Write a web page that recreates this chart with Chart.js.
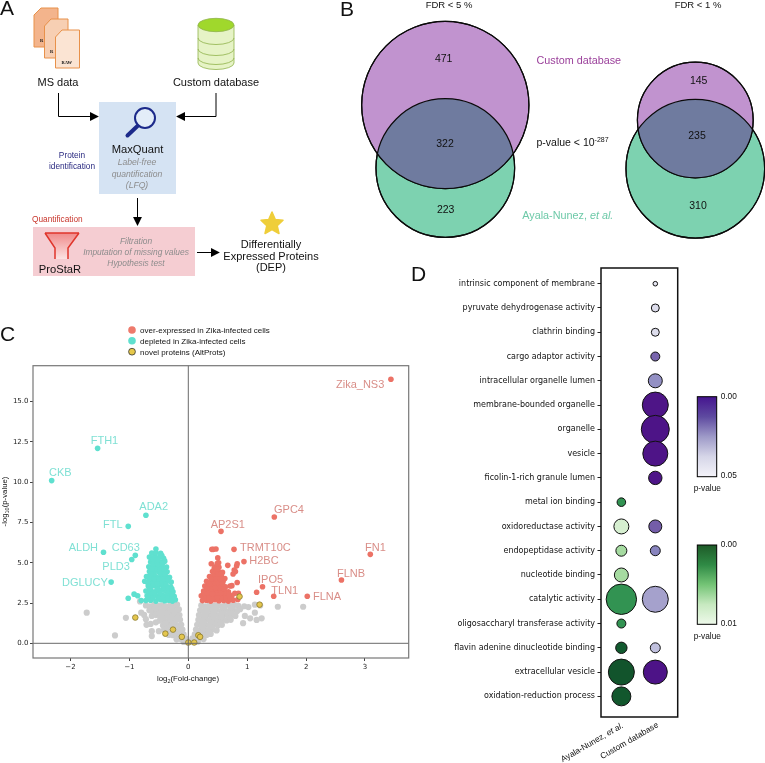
<!DOCTYPE html>
<html><head><meta charset="utf-8">
<script src="https://cdn.jsdelivr.net/npm/chart.js@4"></script>
<style>
html,body{margin:0;padding:0;background:#fff;width:765px;height:763px;overflow:hidden}
canvas{position:absolute;display:block}
svg{position:absolute;left:0;top:0;pointer-events:none}
text{font-family:"Liberation Sans",Arial,sans-serif;fill:#111}
.c{text-anchor:middle}
.g{fill:#8c8c8c;font-style:italic}
</style></head><body>
<canvas id="venn" width="435" height="250" style="left:330px;top:0"></canvas>
<canvas id="volcano" width="420" height="330" style="left:0;top:360px"></canvas>
<canvas id="bubbles" width="280" height="473" style="left:410px;top:256px"></canvas>
<svg width="765" height="763" viewBox="0 0 765 763">
<defs>
<linearGradient id="pg" x1="0" y1="0" x2="0" y2="1"><stop offset="0" stop-color="#45148f"/><stop offset=".25" stop-color="#5e4aa0"/><stop offset=".5" stop-color="#9e9ac8"/><stop offset=".75" stop-color="#d6d6e8"/><stop offset="1" stop-color="#f4f3f9"/></linearGradient>
<linearGradient id="gg" x1="0" y1="0" x2="0" y2="1"><stop offset="0" stop-color="#1e5a28"/><stop offset=".25" stop-color="#2f8a45"/><stop offset=".5" stop-color="#74c476"/><stop offset=".75" stop-color="#c7e9c0"/><stop offset="1" stop-color="#eef9ea"/></linearGradient>
<linearGradient id="fg" x1="0" y1="0" x2="0" y2="1"><stop offset="0" stop-color="#f08a8a"/><stop offset="1" stop-color="#fbe3e3"/></linearGradient>
<marker id="ah" viewBox="0 0 10 10" refX="9" refY="5" markerWidth="9" markerHeight="9" markerUnits="userSpaceOnUse" orient="auto"><path d="M0 0L10 5L0 10Z" fill="#000"/></marker>
</defs>
<!-- panel letters -->
<text x="0" y="15" font-size="21">A</text><text x="340" y="16" font-size="21">B</text>
<text x="0" y="341" font-size="21">C</text><text x="411" y="281" font-size="21">D</text>
<!-- panel A -->
<g stroke="#e8914a" stroke-width="1">
<path d="M41 8H58V47H34V15Z" fill="#f3b48c"/><path d="M51 19H68V58H44.500V26Z" fill="#f7cfb3"/><path d="M62 30H79.500V68H55.500V37Z" fill="#fbe4d3"/>
</g>
<g font-weight="bold" font-size="4.500"><text x="40" y="42" style="font-family:'Liberation Serif'">R</text><text x="50" y="53" style="font-family:'Liberation Serif'">R</text><text x="61.500" y="63.500" style="font-family:'Liberation Serif'">RAW</text></g>
<g stroke="#8fb34a" stroke-width=".8">
<path d="M198 25V63A18 6.500 0 0 0 234 63V25Z" fill="#e6f3c6"/>
<path d="M198 38A18 6.500 0 0 0 234 38M198 49A18 6.500 0 0 0 234 49M198 58A18 6.500 0 0 0 234 58" fill="none"/>
<ellipse cx="216" cy="25" rx="18" ry="6.700" fill="#a0d82c"/>
</g>
<text class="c" x="58" y="86" font-size="11">MS data</text>
<text class="c" x="216" y="86" font-size="11">Custom database</text>
<rect x="99" y="102" width="77" height="92" fill="#d5e3f3"/>
<path d="M58.500 93V116.500H98" fill="none" stroke="#000" marker-end="url(#ah)"/>
<path d="M216 93V116.500H177" fill="none" stroke="#000" marker-end="url(#ah)"/>
<circle cx="145" cy="118" r="10" fill="#e3edf8" stroke="#1c2a8a" stroke-width="2"/>
<path d="M137.500 126L127.500 135.500" stroke="#1c2a8a" stroke-width="4" stroke-linecap="round"/>
<text class="c" x="137.500" y="153" font-size="11.200">MaxQuant</text>
<g font-size="8.600"><text class="c g" x="137" y="165">Label-free</text><text class="c g" x="137" y="176.500">quantification</text><text class="c g" x="137" y="188">(LFQ)</text></g>
<g font-size="8.300"><text class="c" x="72" y="158" style="fill:#2a2a80">Protein</text><text class="c" x="72" y="169" style="fill:#2a2a80">identification</text></g>
<path d="M137.500 198V225" stroke="#000" marker-end="url(#ah)"/>
<text x="32" y="222" font-size="8.300" style="fill:#c8352b">Quantification</text>
<rect x="33" y="227" width="162" height="49" fill="#f5cdd2"/>
<path d="M45 233H79L68 248V259H55V248Z" fill="url(#fg)"/>
<path d="M45 233H79M45 233L55 248V259M79 233L68 248V259" fill="none" stroke="#e0352b" stroke-width="1.500"/>
<text class="c" x="60" y="273" font-size="11.200">ProStaR</text>
<g font-size="8.400"><text class="c g" x="136" y="244">Filtration</text><text class="c g" x="136" y="255">Imputation of missing values</text><text class="c g" x="136" y="266">Hypothesis test</text></g>
<path d="M197 252.500H219" stroke="#000" marker-end="url(#ah)"/>
<path d="M272 212L275.300 219.500L283 220.300L277.200 225.700L279 233.500L272 229.500L265 233.500L266.800 225.700L261 220.300L268.700 219.500Z" fill="#efce3a" stroke="#efce3a" stroke-width="1.500" stroke-linejoin="round"/>
<g font-size="11"><text class="c" x="271" y="248">Differentially</text><text class="c" x="271" y="259.500">Expressed Proteins</text><text class="c" x="271" y="271">(DEP)</text></g>
<!-- panel B text -->
<text class="c" x="449" y="8" font-size="9.500">FDR &lt; 5 %</text>
<text class="c" x="698" y="8" font-size="9.500">FDR &lt; 1 %</text>
<text x="536.500" y="63.500" font-size="10.800" style="fill:#9a3f9a">Custom database</text>
<text x="536.500" y="145.700" font-size="10.500">p-value &lt; 10<tspan dy="-4" font-size="7">-287</tspan></text>
<text x="522.300" y="219" font-size="10.800" style="fill:#6dc9a8">Ayala-Nunez, <tspan font-style="italic">et al.</tspan></text>
<!-- panel C text -->
<g>
<circle cx="132" cy="330" r="3.800" fill="#ee7a6c"/><circle cx="132" cy="340.700" r="3.800" fill="#5fe0cf"/><circle cx="132" cy="351.700" r="3.400" fill="#e6c84a" stroke="#333" stroke-width=".8"/>
<g font-size="8"><text x="140" y="332.800">over-expressed in Zika-infected cells</text><text x="140" y="343.500">depleted in Zika-infected cells</text><text x="140" y="354.500">novel proteins (AltProts)</text></g>
</g>
<text class="c" x="188" y="680.500" font-size="7.800">log<tspan dy="2" font-size="5.500">2</tspan><tspan dy="-2">(Fold-change)</tspan></text>
<text class="c" transform="translate(6.500 501.500) rotate(-90)" font-size="7.800">-log<tspan dy="2" font-size="5.500">10</tspan><tspan dy="-2">(p-value)</tspan></text>
<g font-size="11">
<text x="336" y="388.300" style="fill:#d98e88">Zika_NS3</text><text x="274" y="512.700" style="fill:#d98e88">GPC4</text>
<text x="210.700" y="528.300" style="fill:#d98e88">AP2S1</text><text x="240" y="550.700" style="fill:#d98e88">TRMT10C</text>
<text x="249.300" y="564.300" style="fill:#d98e88">H2BC</text><text x="365" y="550.700" style="fill:#d98e88">FN1</text>
<text x="337" y="577.300" style="fill:#d98e88">FLNB</text><text x="258" y="582.700" style="fill:#d98e88">IPO5</text>
<text x="271.300" y="593.700" style="fill:#d98e88">TLN1</text><text x="313" y="600" style="fill:#d98e88">FLNA</text>
<text x="90.700" y="444" style="fill:#7fe0d4">FTH1</text><text x="49" y="476" style="fill:#7fe0d4">CKB</text>
<text x="139.300" y="510" style="fill:#7fe0d4">ADA2</text><text x="103" y="527.700" style="fill:#7fe0d4">FTL</text>
<text x="68.700" y="551.300" style="fill:#7fe0d4">ALDH</text><text x="111.700" y="551.300" style="fill:#7fe0d4">CD63</text>
<text x="102.300" y="569.700" style="fill:#7fe0d4">PLD3</text><text x="62" y="586" style="fill:#7fe0d4">DGLUCY</text>
</g>
<!-- panel D extras -->
<text transform="translate(624 727) rotate(-30)" text-anchor="end" font-size="8.400">Ayala-Nunez, <tspan font-style="italic">et al.</tspan></text>
<text transform="translate(659 726.500) rotate(-30)" text-anchor="end" font-size="8.400">Custom database</text>
<rect x="697.300" y="396.700" width="19.400" height="80" fill="url(#pg)" stroke="#000" stroke-width="1"/>
<rect x="697.300" y="545" width="19.400" height="79.300" fill="url(#gg)" stroke="#000" stroke-width="1"/>
<g font-size="8.300"><text x="720.700" y="398.700">0.00</text><text x="720.700" y="478">0.05</text><text x="693.700" y="491">p-value</text>
<text x="720.700" y="547">0.00</text><text x="720.700" y="626">0.01</text><text x="693.700" y="639">p-value</text></g>
</svg>
<script>
// ---------- Panel B: Venn data ----------
const vennLeftSizes = [793, 545];   // Custom database, Ayala-Nunez (FDR < 5 %)
const vennRightSizes = [380, 545];  // Custom database, Ayala-Nunez (FDR < 1 %)
const vennCentres = [[115.3,105],[115.3,168],[365.3,120],[365.3,168.7]];
const vennLabels = ['471','322','223','145','235','310'];
const vennLabelSpots = [[113.7,59.5],[115,144.5],[115.7,210.5],[368.7,81.5],[367,136.5],[368,206.5]];

// ---------- Panel C: volcano data (log2 FC, -log10 p) ----------
const novel = [[-0.9,1.6],[-0.39,0.6],[-0.26,0.85],[-0.11,0.4],[0,0.05],[0.1,0.05],[0.17,0.5],[0.2,0.4],[0.87,2.9],[1.21,2.4]];
const overExpressed = [[3.44,16.39],[3.09,5.52],[2.6,3.93],[2.02,2.92],[1.45,2.92],[1.46,7.84],[1.26,3.51],[1.16,3.17],[0.945,5.07],[0.776,5.83],[0.555,6.95],[0.425,5.83],[0.47,5.85],[0.4,5.83],[0.5,5.3],[0.515,5.0],[0.39,4.94],[0.44,4.65],[0.67,4.84],[0.83,4.94],[0.82,4.8],[0.78,4.55],[0.76,4.3],[0.8,4.45],[0.83,3.77],[0.71,3.56],[0.74,3.58],[0.79,3.1],[0.85,3.1],
[0.24,2.65],[0.31,2.68],[0.38,2.62],[0.45,2.7],[0.52,2.64],[0.6,2.66],[0.68,2.62],[0.76,2.68],[0.84,2.72],
[0.22,2.95],[0.3,2.98],[0.37,2.92],[0.44,3.0],[0.51,2.94],[0.58,2.97],[0.66,2.9],[0.74,2.95],
[0.26,3.25],[0.33,3.28],[0.4,3.22],[0.47,3.3],[0.54,3.24],[0.61,3.27],[0.68,3.2],[0.28,3.55],[0.35,3.58],[0.43,3.52],[0.5,3.6],[0.57,3.54],[0.63,3.5],
[0.31,3.85],[0.39,3.88],[0.46,3.82],[0.53,3.9],[0.59,3.84],[0.36,4.15],[0.43,4.18],[0.5,4.12],[0.56,4.2],[0.62,4.02],
[0.41,4.45],[0.47,4.48],[0.53,4.42],[0.58,4.4],[0.46,4.75],[0.52,4.72],[0.49,4.95],[0.56,2.8],[0.41,2.8],[0.29,2.82],[0.34,3.1],[0.48,3.13],[0.62,3.1],[0.39,3.4],[0.53,3.42],[0.44,3.7],
[0.27,2.8],[0.35,2.78],[0.49,2.82],[0.64,2.8],[0.71,2.78],[0.26,3.1],[0.41,3.08],[0.55,3.1],[0.69,3.05],[0.32,3.42],[0.46,3.44],[0.6,3.4],[0.36,3.7],[0.51,3.74],[0.58,3.7],[0.4,4.0],[0.47,4.03],[0.54,4.0],[0.44,4.32],[0.5,4.3],[0.56,4.3],[0.49,4.6]];
const depleted = [[-2.32,10.1],[-1.54,12.1],[-0.72,7.95],[-1.02,7.26],[-1.44,5.65],[-0.9,5.46],[-0.96,5.2],[-1.31,3.8],[-1.02,2.8],[-0.92,3.05],[-0.86,2.95],[-0.8,2.65],
[-0.72,2.65],[-0.64,2.68],[-0.55,2.62],[-0.47,2.7],[-0.4,2.64],[-0.33,2.67],[-0.27,2.62],[-0.22,2.7],
[-0.7,2.95],[-0.61,2.98],[-0.52,2.92],[-0.44,3.0],[-0.36,2.94],[-0.3,2.97],[-0.24,2.92],
[-0.72,3.25],[-0.63,3.28],[-0.55,3.22],[-0.47,3.3],[-0.39,3.24],[-0.32,3.27],[-0.26,3.2],
[-0.68,3.55],[-0.6,3.58],[-0.52,3.52],[-0.44,3.6],[-0.37,3.54],[-0.3,3.5],
[-0.74,3.85],[-0.66,3.88],[-0.57,3.82],[-0.49,3.9],[-0.41,3.84],[-0.34,3.88],[-0.29,3.8],
[-0.71,4.15],[-0.62,4.18],[-0.54,4.12],[-0.46,4.2],[-0.38,4.14],[-0.32,4.1],
[-0.66,4.45],[-0.58,4.48],[-0.5,4.42],[-0.43,4.5],[-0.36,4.44],
[-0.67,4.75],[-0.6,4.78],[-0.52,4.72],[-0.45,4.8],[-0.37,4.74],
[-0.64,5.05],[-0.56,5.08],[-0.48,5.02],[-0.4,5.1],[-0.66,5.35],[-0.57,5.38],[-0.5,5.32],[-0.42,5.28],
[-0.62,5.6],[-0.55,5.62],[-0.47,5.58],[-0.55,5.85],[-0.5,2.8],[-0.42,2.82],[-0.58,3.1],[-0.48,3.12],[-0.34,3.1],[-0.53,3.4],[-0.41,3.42],[-0.6,3.7],[-0.45,3.72],[-0.5,4.0],[-0.58,4.3],[-0.46,4.32],[-0.55,4.6],
[-0.67,2.8],[-0.6,2.82],[-0.35,2.8],[-0.28,2.78],[-0.66,3.1],[-0.28,3.08],[-0.66,3.4],[-0.34,3.4],[-0.28,3.38],[-0.68,3.7],[-0.53,3.7],[-0.38,3.7],[-0.66,4.02],[-0.58,4.0],[-0.42,4.0],[-0.35,3.98],[-0.64,4.3],[-0.4,4.3],[-0.62,4.6],[-0.48,4.6],[-0.41,4.6],[-0.6,4.92],[-0.52,4.9],[-0.44,4.95],[-0.6,5.2],[-0.52,5.2],[-0.45,5.45]];
const notSignificant = [[-1.725,1.9],[-1.06,1.58],[-1.245,0.49],[-0.82,2.6],[-0.8,1.9],[-0.75,1.76],[-0.71,1.15],[-0.62,0.75],[-0.62,0.45],[-0.72,1.5],[-0.64,1.2],[-0.55,1.3],[-0.5,0.75],
[-0.72,2.35],[-0.65,2.3],[-0.58,2.38],[-0.51,2.32],[-0.44,2.36],[-0.37,2.3],[-0.3,2.37],[-0.24,2.33],[-0.19,2.4],
[-0.66,2.05],[-0.6,2.0],[-0.53,2.06],[-0.46,2.0],[-0.39,2.04],[-0.32,1.98],[-0.26,2.05],[-0.2,2.0],[-0.16,2.1],
[-0.62,1.7],[-0.55,1.75],[-0.48,1.68],[-0.41,1.73],[-0.34,1.7],[-0.27,1.76],[-0.21,1.7],[-0.15,1.75],
[-0.49,1.4],[-0.42,1.45],[-0.35,1.38],[-0.28,1.43],[-0.22,1.4],[-0.14,1.46],
[-0.43,1.1],[-0.36,1.14],[-0.3,1.08],[-0.24,1.12],[-0.17,1.1],[-0.12,1.15],
[-0.41,0.85],[-0.35,0.82],[-0.29,0.78],[-0.23,0.84],[-0.17,0.8],[-0.1,0.85],
[-0.33,0.52],[-0.26,0.5],[-0.2,0.55],[-0.14,0.5],[-0.08,0.56],
[-0.2,0.25],[-0.14,0.28],[-0.09,0.22],[-0.05,0.3],[-0.08,0.08],[-0.04,0.1],[-0.01,0.06],[0.02,0.1],
[-0.56,2.18],[-0.42,2.18],[-0.29,2.2],[-0.5,1.88],[-0.36,1.86],[-0.24,1.88],[-0.45,1.58],[-0.31,1.56],[-0.18,1.58],[-0.39,1.26],[-0.26,1.26],[-0.33,0.98],[-0.2,0.96],[-0.28,0.66],[-0.16,0.66],[-0.11,0.38],
[0.22,2.35],[0.29,2.3],[0.36,2.38],[0.43,2.32],[0.5,2.36],[0.57,2.3],[0.64,2.37],[0.71,2.33],[0.78,2.38],[0.85,2.32],[0.95,2.3],
[0.2,2.05],[0.27,2.0],[0.34,2.06],[0.41,2.02],[0.48,2.08],[0.55,2.0],[0.62,2.05],[0.69,2.0],[0.76,2.06],[0.83,2.0],[0.88,2.12],
[0.18,1.75],[0.25,1.7],[0.32,1.76],[0.39,1.72],[0.46,1.78],[0.53,1.7],[0.6,1.75],[0.67,1.72],[0.74,1.78],[0.8,1.7],
[0.17,1.45],[0.23,1.4],[0.3,1.46],[0.37,1.42],[0.44,1.48],[0.51,1.4],[0.58,1.45],[0.65,1.42],[0.72,1.46],
[0.15,1.15],[0.22,1.1],[0.29,1.16],[0.36,1.12],[0.43,1.18],[0.5,1.1],[0.57,1.15],
[0.13,0.85],[0.2,0.8],[0.27,0.86],[0.34,0.82],[0.41,0.88],[0.48,0.8],
[0.11,0.55],[0.17,0.5],[0.24,0.56],[0.31,0.52],[0.38,0.58],[0.07,0.3],[0.13,0.25],[0.2,0.3],[0.26,0.26],[0.05,0.1],[0.1,0.12],[0.16,0.1],
[0.31,2.18],[0.45,2.2],[0.59,2.18],[0.73,2.2],[0.29,1.88],[0.43,1.9],[0.57,1.88],[0.71,1.88],[0.28,1.58],[0.42,1.6],[0.56,1.58],[0.26,1.28],[0.4,1.3],[0.54,1.28],[0.24,1.0],[0.38,1.0],[0.22,0.68],[0.35,0.7],[0.17,0.38],
[1.52,2.27],[1.95,2.27],[1.245,1.55],[1.16,1.45],[0.93,1.25],[1.05,1.55],[0.96,1.7],[1.13,1.9],[1.02,2.25],[1.13,2.4],[1.22,2.35]];
const xTickValues = [-2,-1,0,1,2,3];
const yTickValues = [0,2.5,5,7.5,10,12.5,15];

// ---------- Panel D: enrichment data ----------
const terms = ['intrinsic component of membrane','pyruvate dehydrogenase activity','clathrin binding','cargo adaptor activity','intracellular organelle lumen','membrane-bounded organelle','organelle','vesicle','ficolin-1-rich granule lumen','metal ion binding','oxidoreductase activity','endopeptidase activity','nucleotide binding','catalytic activity','oligosaccharyl transferase activity','flavin adenine dinucleotide binding','extracellular vesicle','oxidation-reduction process'];
const ayalaSize  = [null,null,null,null,null,null,null,null,null,4.3,7.5,5.5,7,15.2,4.5,5.7,13,9.5];
const ayalaP     = [null,null,null,null,null,null,null,null,null,0.0025,0.008,0.0062,0.0062,0.0025,0.0025,0.0003,0.0001,0.0002];
const customSize = [2.3,4,4,4.5,7,13,14,12.5,6.7,null,6.5,5,null,13,null,5,12,null];
const customP    = [0.04,0.0375,0.0375,0.0135,0.021,0.0005,0.0003,0.0004,0.0006,null,0.0125,0.0185,null,0.025,null,0.031,0.0002,null];
const purpleRamp = ['#3f007d','#54278f','#6a51a3','#807dba','#9e9ac8','#bcbddc','#dadaeb','#efedf5','#fcfbfd'];
const greenRamp  = ['#00441b','#006d2c','#238b45','#41ab5d','#74c476','#a1d99b','#c7e9c0','#e5f5e0','#f7fcf5'];

function rampColor(ramp, t){
  const f = Math.min(0.9999, Math.max(0, t)) * (ramp.length - 1), i = Math.floor(f), k = f - i;
  const rgb = h => [1,3,5].map(j => parseInt(h.substr(j,2),16));
  const a = rgb(ramp[i]), b = rgb(ramp[i+1]);
  const c = a.map((v,j) => Math.round((v + (b[j]-v)*k) * 0.93 + 255*0.07));
  return `rgb(${c.join(',')})`;
}
Chart.defaults.animation = false;
Chart.defaults.responsive = false;
Chart.defaults.plugins.legend.display = false;
Chart.defaults.plugins.tooltip.enabled = false;
Chart.defaults.devicePixelRatio = 1;

// ---------- Venn ----------
const vennK = 2.97;
const vennPoint = (i, size) => ({x: vennCentres[i][0], y: vennCentres[i][1], r: vennK * Math.sqrt(size)});
const vennPlugin = {
  id: 'vennOverlap',
  afterDatasetsDraw(chart){
    const c = chart.ctx, m = chart.getDatasetMeta(0).data;
    const g = chart.getDatasetMeta(1).data;
    const circle = e => { c.beginPath(); c.arc(e.x, e.y, e.options.radius, 0, 2*Math.PI); };
    [0,1].forEach(i => {
      c.save(); circle(m[i]); c.clip(); circle(g[i]); c.fillStyle = '#6f7b9f'; c.fill(); c.restore();
      c.strokeStyle = '#0a0a0a'; c.lineWidth = 1.2;
      circle(m[i]); c.stroke(); circle(g[i]); c.stroke();
    });
    const sx = chart.scales.x, sy = chart.scales.y;
    c.fillStyle = '#111'; c.font = '10.5px "Liberation Sans"'; c.textAlign = 'center'; c.textBaseline = 'middle';
    vennLabels.forEach((t,i) => c.fillText(t, sx.getPixelForValue(vennLabelSpots[i][0]), sy.getPixelForValue(vennLabelSpots[i][1])));
  }
};
new Chart(document.getElementById('venn'), {
  type: 'bubble',
  data: {datasets: [
    {label:'Custom database', data:[vennPoint(0,vennLeftSizes[0]), vennPoint(2,vennRightSizes[0])], backgroundColor:'#c193cf', borderColor:'#0a0a0a', borderWidth:1.2, clip:false},
    {label:'Ayala-Nunez, et al.', data:[vennPoint(1,vennLeftSizes[1]), vennPoint(3,vennRightSizes[1])], backgroundColor:'#7dd2b0', borderColor:'#0a0a0a', borderWidth:1.2, clip:false}
  ]},
  options: {
    layout:{padding:0,autoPadding:false},
    scales:{x:{display:false,min:0,max:435},y:{display:false,min:0,max:250,reverse:true}}
  },
  plugins:[vennPlugin]
});

// ---------- Volcano ----------
const xy = a => a.map(p => ({x:p[0], y:p[1]}));
const volcanoFrame = {
  id:'volcanoFrame',
  afterDatasetsDraw(chart){
    const c = chart.ctx, a = chart.chartArea, x0 = chart.scales.x.getPixelForValue(0), y0 = chart.scales.y.getPixelForValue(0);
    c.save(); c.strokeStyle = '#6a6a6a'; c.lineWidth = 1;
    c.beginPath(); c.moveTo(x0,a.top); c.lineTo(x0,a.bottom); c.moveTo(a.left,y0); c.lineTo(a.right,y0); c.stroke();
    c.strokeStyle = '#777'; c.lineWidth = 1.2; c.strokeRect(a.left,a.top,a.right-a.left,a.bottom-a.top);
    c.restore();
  }
};
const pointStyle = (bg, bd, bw, r) => ({backgroundColor:bg, borderColor:bd, borderWidth:bw, pointRadius:r});
new Chart(document.getElementById('volcano'), {
  type:'scatter',
  data:{datasets:[
    {label:'novel proteins (AltProts)', data:xy(novel), ...pointStyle('#e4c64e','#8a7a30',0.8,2.8)},
    {label:'over-expressed in Zika-infected cells', data:xy(overExpressed), ...pointStyle('#ec7266','#ec7266',0,2.8)},
    {label:'depleted in Zika-infected cells', data:xy(depleted), ...pointStyle('#5fe0cf','#5fe0cf',0,2.8)},
    {label:'not significant', data:xy(notSignificant), ...pointStyle('#cccccc','#cccccc',0,3.1)}
  ]},
  options:{
    layout:{autoPadding:false,padding:{top:5.7,right:11.3,bottom:0,left:0}},
    scales:{
      x:{type:'linear',min:-2.637,max:3.742,
         afterBuildTicks:s=>{s.ticks=xTickValues.map(v=>({value:v}));},
         afterFit:s=>{s.height=32;},
         grid:{drawOnChartArea:false,tickLength:3,tickColor:'#444'},border:{display:false},
         ticks:{padding:1.5,maxRotation:0,autoSkip:false,color:'#222',font:{family:'DejaVu Sans',size:7},callback:v=>String(v).replace('-','\u2212')}},
      y:{type:'linear',min:-0.912,max:17.23,
         afterBuildTicks:s=>{s.ticks=yTickValues.map(v=>({value:v}));},
         afterFit:s=>{s.width=33;},
         grid:{drawOnChartArea:false,tickLength:3,tickColor:'#444'},border:{display:false},
         ticks:{padding:1.5,autoSkip:false,color:'#222',font:{family:'DejaVu Sans',size:7},callback:v=>Number(v).toFixed(1)}}
    }
  },
  plugins:[volcanoFrame]
});

// ---------- Dot plot ----------
const dots = (col, sizes) => sizes.map((r,i) => r===null ? null : ({x:col, y:i, r})).filter(Boolean);
const dotColors = (ramp, pvals, pmax) => pvals.filter(p => p!==null).map(p => rampColor(ramp, p/pmax));
const boxPlugin = {
  id:'boxFrame',
  afterDraw(chart){
    const c = chart.ctx, a = chart.chartArea;
    c.save(); c.strokeStyle = '#111'; c.lineWidth = 1.5; c.strokeRect(a.left,a.top,a.right-a.left,a.bottom-a.top); c.restore();
  }
};
new Chart(document.getElementById('bubbles'), {
  type:'bubble',
  data:{datasets:[
    {label:'Ayala-Nunez, et al.', data:dots(0,ayalaSize), backgroundColor:dotColors(greenRamp,ayalaP,0.01), borderColor:'#111', borderWidth:1},
    {label:'Custom database', data:dots(1,customSize), backgroundColor:dotColors(purpleRamp,customP,0.05), borderColor:'#111', borderWidth:1}
  ]},
  options:{
    layout:{autoPadding:false,padding:{top:12,right:12.3,bottom:12,left:0}},
    scales:{
      x:{type:'linear',display:false,min:-0.6,max:1.66},
      y:{type:'linear',reverse:true,min:-0.647,max:17.85,
         afterBuildTicks:s=>{s.ticks=terms.map((t,i)=>({value:i}));},
         afterFit:s=>{s.width=191;},
         grid:{drawOnChartArea:false,tickLength:3.5,tickColor:'#222'},border:{display:false},
         ticks:{padding:2.5,autoSkip:false,color:'#111',font:{family:'DejaVu Sans',size:8},callback:v=>terms[v]}}
    }
  },
  plugins:[boxPlugin]
});
</script>
</body></html>
